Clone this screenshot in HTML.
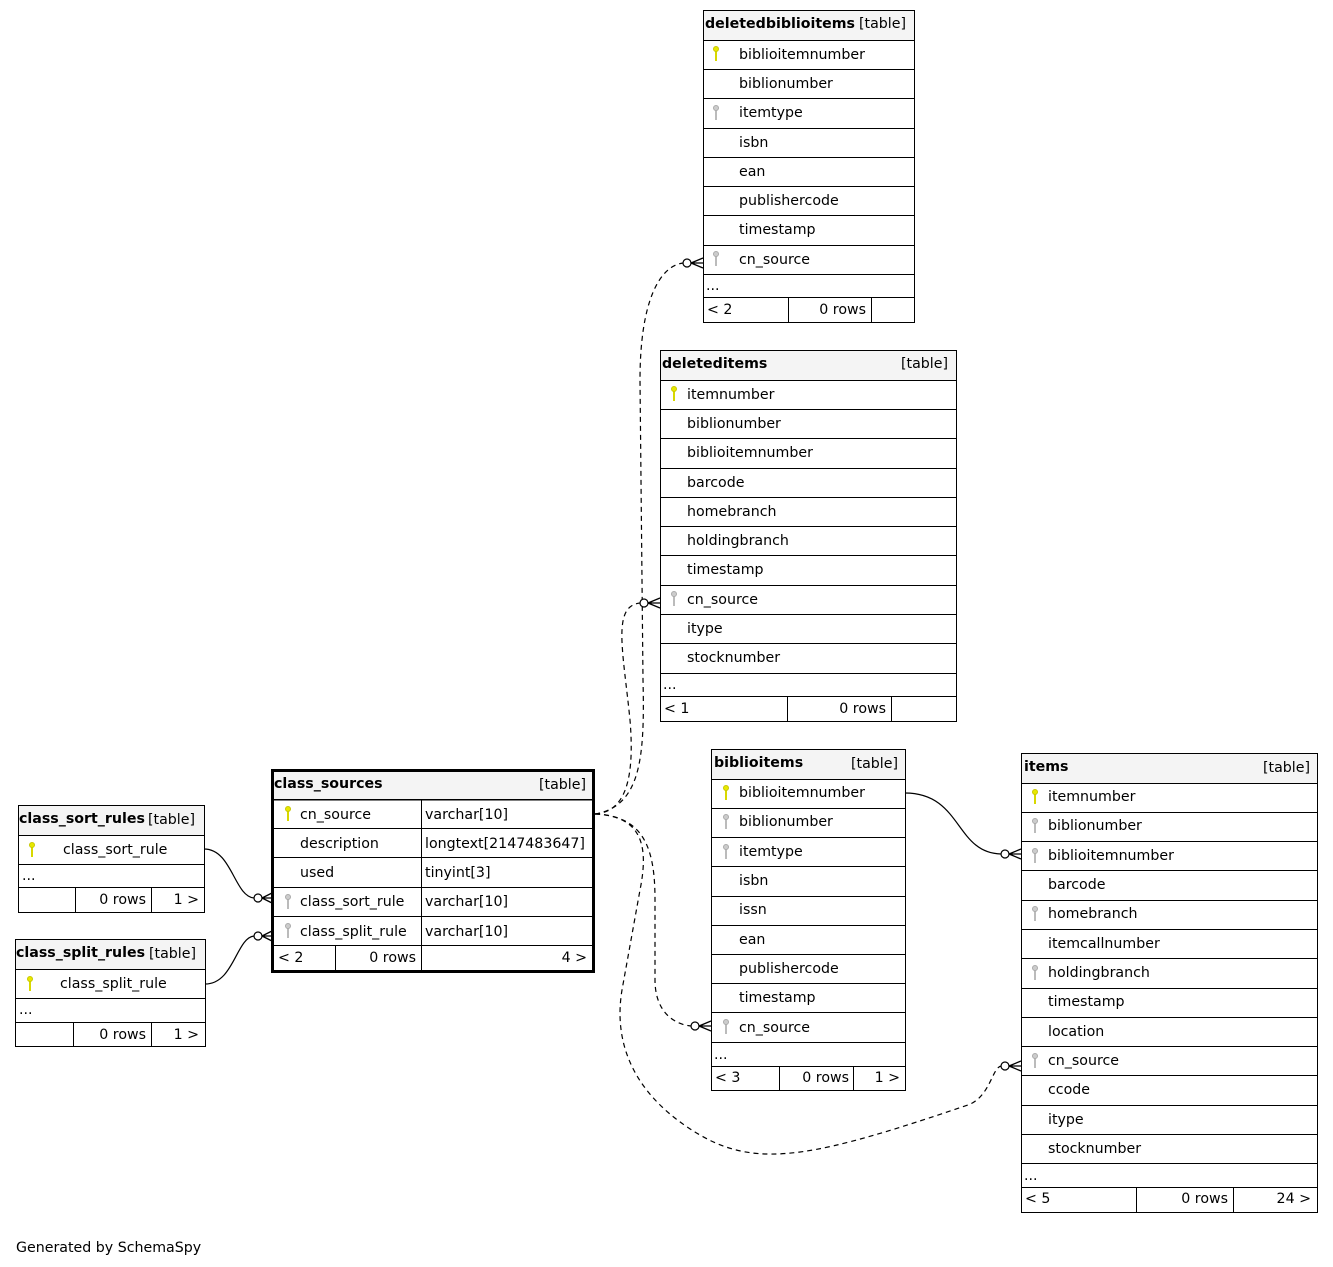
<!DOCTYPE html>
<html><head><meta charset="utf-8"><style>
html,body{margin:0;padding:0;background:#fff;}
svg{display:block;font-family:"DejaVu Sans","Liberation Sans",sans-serif;font-size:14.2px;}
.h{fill:#f4f4f4;stroke:#000;stroke-width:1}
.b{fill:#fff;stroke:#000;stroke-width:1}
.l{stroke:#000;stroke-width:1}
.bd{font-weight:bold}
.c{fill:none;stroke:#000;stroke-width:1.2}
.d{stroke-dasharray:5,4}
</style></head><body>
<svg width="1333" height="1267" viewBox="0 0 1333 1267" xmlns="http://www.w3.org/2000/svg">
<defs>
<g id="pk"><line x1="0" y1="2" x2="0" y2="14" stroke="#d8d800" stroke-width="2"/><circle cx="0" cy="2" r="2.5" fill="#e8e800" stroke="#c8c800" stroke-width="1"/></g>
<g id="fk"><line x1="0" y1="2" x2="0" y2="14" stroke="#bbb" stroke-width="2"/><circle cx="0" cy="2" r="2.5" fill="#ccc" stroke="#aaa" stroke-width="1"/></g>
</defs>
<rect width="1333" height="1267" fill="#fff"/>

<!-- deletedbiblioitems -->
<rect class="b" x="703.5" y="10.5" width="211" height="312"/>
<rect class="h" x="703.5" y="10.5" width="211" height="30"/>
<text x="705" y="28" class="bd">deletedbiblioitems</text><text x="859" y="28">[table]</text>
<g class="l"><line x1="703" x2="914" y1="69.5" y2="69.5"/><line x1="703" x2="914" y1="98.5" y2="98.5"/><line x1="703" x2="914" y1="128.5" y2="128.5"/><line x1="703" x2="914" y1="157.5" y2="157.5"/><line x1="703" x2="914" y1="186.5" y2="186.5"/><line x1="703" x2="914" y1="215.5" y2="215.5"/><line x1="703" x2="914" y1="245.5" y2="245.5"/><line x1="703" x2="914" y1="274.5" y2="274.5"/><line x1="703" x2="914" y1="297.5" y2="297.5"/><line x1="788.5" x2="788.5" y1="297" y2="322"/><line x1="871.5" x2="871.5" y1="297" y2="322"/></g>
<use href="#pk" x="716" y="47"/><use href="#fk" x="716" y="106"/><use href="#fk" x="716" y="252"/>
<text x="739" y="59">biblioitemnumber</text><text x="739" y="88">biblionumber</text><text x="739" y="117">itemtype</text><text x="739" y="147">isbn</text><text x="739" y="176">ean</text><text x="739" y="205">publishercode</text><text x="739" y="234">timestamp</text><text x="739" y="264">cn_source</text>
<text x="706" y="290">...</text><text x="707" y="314">&lt; 2</text><text x="866" y="314" text-anchor="end">0 rows</text>

<!-- deleteditems -->
<rect class="b" x="660.5" y="350.5" width="296" height="371"/>
<rect class="h" x="660.5" y="350.5" width="296" height="30"/>
<text x="662" y="368" class="bd">deleteditems</text><text x="948" y="368" text-anchor="end">[table]</text>
<g class="l"><line x1="660" x2="956" y1="409.5" y2="409.5"/><line x1="660" x2="956" y1="438.5" y2="438.5"/><line x1="660" x2="956" y1="468.5" y2="468.5"/><line x1="660" x2="956" y1="497.5" y2="497.5"/><line x1="660" x2="956" y1="526.5" y2="526.5"/><line x1="660" x2="956" y1="555.5" y2="555.5"/><line x1="660" x2="956" y1="585.5" y2="585.5"/><line x1="660" x2="956" y1="614.5" y2="614.5"/><line x1="660" x2="956" y1="643.5" y2="643.5"/><line x1="660" x2="956" y1="673.5" y2="673.5"/><line x1="660" x2="956" y1="696.5" y2="696.5"/><line x1="787.5" x2="787.5" y1="696" y2="721"/><line x1="891.5" x2="891.5" y1="696" y2="721"/></g>
<use href="#pk" x="674" y="387"/><use href="#fk" x="674" y="592"/>
<text x="687" y="399">itemnumber</text><text x="687" y="428">biblionumber</text><text x="687" y="457">biblioitemnumber</text><text x="687" y="487">barcode</text><text x="687" y="516">homebranch</text><text x="687" y="545">holdingbranch</text><text x="687" y="574">timestamp</text><text x="687" y="604">cn_source</text><text x="687" y="633">itype</text><text x="687" y="662">stocknumber</text>
<text x="663" y="689">...</text><text x="664" y="713">&lt; 1</text><text x="886" y="713" text-anchor="end">0 rows</text>

<!-- biblioitems -->
<rect class="b" x="711.5" y="749.5" width="194" height="341"/>
<rect class="h" x="711.5" y="749.5" width="194" height="30"/>
<text x="714" y="767" class="bd">biblioitems</text><text x="898" y="768" text-anchor="end">[table]</text>
<g class="l"><line x1="711" x2="905" y1="808.5" y2="808.5"/><line x1="711" x2="905" y1="837.5" y2="837.5"/><line x1="711" x2="905" y1="866.5" y2="866.5"/><line x1="711" x2="905" y1="896.5" y2="896.5"/><line x1="711" x2="905" y1="925.5" y2="925.5"/><line x1="711" x2="905" y1="954.5" y2="954.5"/><line x1="711" x2="905" y1="983.5" y2="983.5"/><line x1="711" x2="905" y1="1012.5" y2="1012.5"/><line x1="711" x2="905" y1="1042.5" y2="1042.5"/><line x1="711" x2="905" y1="1066.5" y2="1066.5"/><line x1="779.5" x2="779.5" y1="1066" y2="1090"/><line x1="853.5" x2="853.5" y1="1066" y2="1090"/></g>
<use href="#pk" x="726" y="786"/><use href="#fk" x="726" y="815"/><use href="#fk" x="726" y="845"/><use href="#fk" x="726" y="1020"/>
<text x="739" y="797">biblioitemnumber</text><text x="739" y="826">biblionumber</text><text x="739" y="856">itemtype</text><text x="739" y="885">isbn</text><text x="739" y="914">issn</text><text x="739" y="944">ean</text><text x="739" y="973">publishercode</text><text x="739" y="1002">timestamp</text><text x="739" y="1032">cn_source</text>
<text x="714" y="1059">...</text><text x="715" y="1082">&lt; 3</text><text x="849" y="1082" text-anchor="end">0 rows</text><text x="900" y="1082" text-anchor="end">1 &gt;</text>

<!-- items -->
<rect class="b" x="1021.5" y="753.5" width="296" height="459"/>
<rect class="h" x="1021.5" y="753.5" width="296" height="30"/>
<text x="1024" y="771" class="bd">items</text><text x="1310" y="772" text-anchor="end">[table]</text>
<g class="l"><line x1="1021" x2="1317" y1="812.5" y2="812.5"/><line x1="1021" x2="1317" y1="841.5" y2="841.5"/><line x1="1021" x2="1317" y1="870.5" y2="870.5"/><line x1="1021" x2="1317" y1="900.5" y2="900.5"/><line x1="1021" x2="1317" y1="929.5" y2="929.5"/><line x1="1021" x2="1317" y1="958.5" y2="958.5"/><line x1="1021" x2="1317" y1="988.5" y2="988.5"/><line x1="1021" x2="1317" y1="1017.5" y2="1017.5"/><line x1="1021" x2="1317" y1="1046.5" y2="1046.5"/><line x1="1021" x2="1317" y1="1075.5" y2="1075.5"/><line x1="1021" x2="1317" y1="1105.5" y2="1105.5"/><line x1="1021" x2="1317" y1="1134.5" y2="1134.5"/><line x1="1021" x2="1317" y1="1163.5" y2="1163.5"/><line x1="1021" x2="1317" y1="1187.5" y2="1187.5"/><line x1="1136.5" x2="1136.5" y1="1187" y2="1212"/><line x1="1233.5" x2="1233.5" y1="1187" y2="1212"/></g>
<use href="#pk" x="1035" y="790"/><use href="#fk" x="1035" y="819"/><use href="#fk" x="1035" y="849"/><use href="#fk" x="1035" y="907"/><use href="#fk" x="1035" y="966"/><use href="#fk" x="1035" y="1054"/>
<text x="1048" y="801">itemnumber</text><text x="1048" y="830">biblionumber</text><text x="1048" y="860">biblioitemnumber</text><text x="1048" y="889">barcode</text><text x="1048" y="918">homebranch</text><text x="1048" y="948">itemcallnumber</text><text x="1048" y="977">holdingbranch</text><text x="1048" y="1006">timestamp</text><text x="1048" y="1036">location</text><text x="1048" y="1065">cn_source</text><text x="1048" y="1094">ccode</text><text x="1048" y="1124">itype</text><text x="1048" y="1153">stocknumber</text>
<text x="1024" y="1180">...</text><text x="1025" y="1203">&lt; 5</text><text x="1228" y="1203" text-anchor="end">0 rows</text><text x="1311" y="1203" text-anchor="end">24 &gt;</text>

<!-- class_sources -->
<rect class="h" x="272" y="770" width="321" height="30" stroke="none"/>
<rect x="272.5" y="770.5" width="321" height="201" fill="none" stroke="#000" stroke-width="3"/>
<g class="l"><line x1="272" x2="593" y1="799.5" y2="799.5"/><line x1="272" x2="593" y1="828.5" y2="828.5"/><line x1="272" x2="593" y1="857.5" y2="857.5"/><line x1="272" x2="593" y1="887.5" y2="887.5"/><line x1="272" x2="593" y1="916.5" y2="916.5"/><line x1="272" x2="593" y1="945.5" y2="945.5"/><line x1="421.5" x2="421.5" y1="799" y2="971"/><line x1="335.5" x2="335.5" y1="945" y2="971"/></g>
<text x="274" y="788" class="bd">class_sources</text><text x="586" y="789" text-anchor="end">[table]</text>
<use href="#pk" x="288" y="807"/><use href="#fk" x="288" y="895"/><use href="#fk" x="288" y="924"/>
<text x="300" y="819">cn_source</text><text x="300" y="848">description</text><text x="300" y="877">used</text><text x="300" y="906">class_sort_rule</text><text x="300" y="936">class_split_rule</text>
<text x="425" y="819">varchar[10]</text><text x="425" y="848">longtext[2147483647]</text><text x="425" y="877">tinyint[3]</text><text x="425" y="906">varchar[10]</text><text x="425" y="936">varchar[10]</text>
<text x="278" y="962">&lt; 2</text><text x="416" y="962" text-anchor="end">0 rows</text><text x="587" y="962" text-anchor="end">4 &gt;</text>

<!-- class_sort_rules -->
<rect class="b" x="18.5" y="805.5" width="186" height="107"/>
<rect class="h" x="18.5" y="805.5" width="186" height="30"/>
<text x="19" y="823" class="bd">class_sort_rules</text><text x="148" y="824">[table]</text>
<g class="l"><line x1="18" x2="204" y1="864.5" y2="864.5"/><line x1="18" x2="204" y1="887.5" y2="887.5"/><line x1="75.5" x2="75.5" y1="887" y2="912"/><line x1="151.5" x2="151.5" y1="887" y2="912"/></g>
<use href="#pk" x="32" y="843"/><text x="63" y="854">class_sort_rule</text>
<text x="22" y="880">...</text><text x="146" y="904" text-anchor="end">0 rows</text><text x="199" y="904" text-anchor="end">1 &gt;</text>

<!-- class_split_rules -->
<rect class="b" x="15.5" y="939.5" width="190" height="107"/>
<rect class="h" x="15.5" y="939.5" width="190" height="30"/>
<text x="16" y="957" class="bd">class_split_rules</text><text x="149" y="958">[table]</text>
<g class="l"><line x1="15" x2="205" y1="998.5" y2="998.5"/><line x1="15" x2="205" y1="1022.5" y2="1022.5"/><line x1="73.5" x2="73.5" y1="1022" y2="1047"/><line x1="151.5" x2="151.5" y1="1022" y2="1047"/></g>
<use href="#pk" x="30" y="977"/><text x="60" y="988">class_split_rule</text>
<text x="19" y="1014">...</text><text x="146" y="1039" text-anchor="end">0 rows</text><text x="199" y="1039" text-anchor="end">1 &gt;</text>

<!-- connectors -->
<g class="c">
<path class="d" d="M595,814 C640,806 645,760 643,680 L640,380 C640,300 660,266 683,263"/>
<path class="d" d="M595,814 C625,812 635,780 630,720 C623,650 612,606 640,603"/>
<path class="d" d="M595,814 C645,816 655,850 655,900 L655,980 C655,1010 672,1024 691,1026"/>
<path class="d" d="M595,814 C645,816 648,850 640,890 L622,990 C612,1050 640,1100 700,1135 C760,1170 820,1155 968,1105 C990,1097 992,1068 1001,1066"/>
<path d="M905,793 C962,793 955,853 1001,854"/>
<path d="M204,849 C232,849 234,896 254,898"/>
<path d="M205,984 C234,984 236,938 254,936"/>
</g>
<g fill="#fff" stroke="#000" stroke-width="1.2">
<circle cx="687" cy="263" r="4"/><circle cx="644" cy="603" r="4"/><circle cx="695" cy="1026" r="4"/><circle cx="1005" cy="1066" r="4"/><circle cx="1005" cy="854" r="4"/><circle cx="258" cy="898" r="4"/><circle cx="258" cy="936" r="4"/>
</g>
<g stroke="#000" stroke-width="1.3" fill="none">
<path d="M691,263 L703,258 M691,263 L703,268 M691,263 L703,263"/>
<path d="M648,603 L660,598 M648,603 L660,608 M648,603 L660,603"/>
<path d="M699,1026 L711,1021 M699,1026 L711,1031 M699,1026 L711,1026"/>
<path d="M1009,1066 L1021,1061 M1009,1066 L1021,1071 M1009,1066 L1021,1066"/>
<path d="M1009,854 L1021,849 M1009,854 L1021,859 M1009,854 L1021,854"/>
<path d="M262,898 L272,893 M262,898 L272,903 M262,898 L272,898"/>
<path d="M262,936 L272,931 M262,936 L272,941 M262,936 L272,936"/>
</g>

<text x="16" y="1252">Generated by SchemaSpy</text>
</svg>
</body></html>
